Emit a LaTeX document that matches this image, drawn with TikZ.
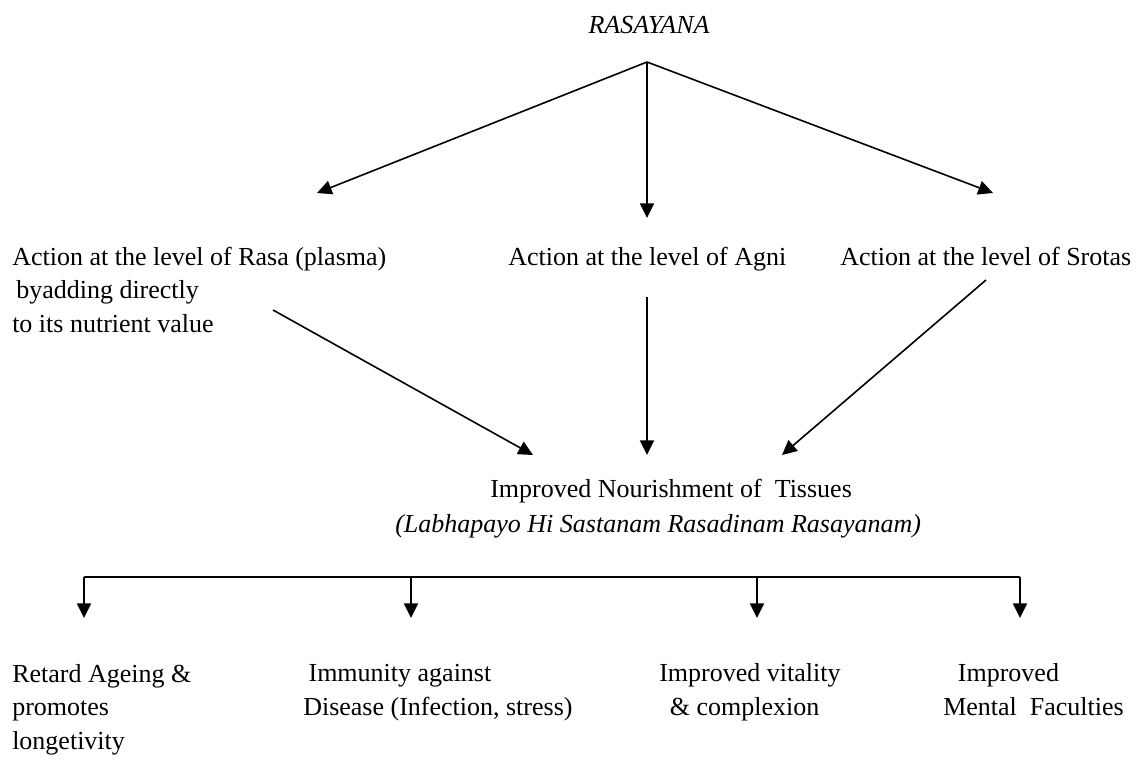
\documentclass[tikz,border=0pt]{standalone}
\usepackage{fontspec}
\setmainfont{Liberation Serif}
\usetikzlibrary{positioning,arrows.meta}
\tikzset{%
  lbl/.style={inner sep=0pt,font=\fontsize{19.5}{25}\selectfont},
  blk/.style={lbl,align=left,anchor=base west}, % base = last line
  arr/.style={line width=1.2pt,-{Triangle[length=11pt,width=10.5pt]}},
  bar/.style={line width=1.2pt}
}

\begin{document}
\begin{tikzpicture}[x=0.75pt,y=-0.75pt]
  \useasboundingbox (0,0) rectangle (1147,764);
  \node[lbl,anchor=base] (ras) at (649,33) {\itshape RASAYANA};
  \coordinate (apex) at (647,62);

  % three actions
  \node[blk] (rasa) at (12,332) {Action at the level of Rasa (plasma)\\
    \hspace*{3pt}byadding directly\\to its nutrient value};
  \node[lbl,anchor=base west] (agni) at (508,265) {Action at the level of Agni};
  \node[lbl,anchor=base west] (srotas) at (840,265) {Action at the level of Srotas};

  \coordinate (t1) at (317,193);
  \coordinate (t2) at (647,218);
  \coordinate (t3) at (993,193);
  \draw[arr] (apex) -- (t1);
  \draw[arr] (apex) -- (t2);
  \draw[arr] (apex) -- (t3);

  % nourishment
  \node[lbl,anchor=base west] (nour) at (490,497) {Improved Nourishment of\ \ Tissues};
  \node[lbl,anchor=base west] (quote) at (395,532)
    {\itshape (Labhapayo Hi Sastanam Rasadinam Rasayanam)};

  \coordinate (s1) at (273,310);
  \coordinate (s2) at (647,297);
  \coordinate (s3) at (986,280);
  \coordinate (e1) at (533,455);
  \coordinate (e2) at (647,455);
  \coordinate (e3) at (782,455);
  \draw[arr] (s1) -- (e1);
  \draw[arr] (s2) -- (e2);
  \draw[arr] (s3) -- (e3);

  % effects
  \foreach \x [count=\i] in {84,411,757,1020} {
    \coordinate (b\i) at (\x,577);
    \coordinate (d\i) at (\x,618);
    \draw[arr] (b\i) -- (d\i);
  }
  \draw[bar] (b1) -- (b4);

  \node[blk] (ageing) at (12,749) {Retard Ageing \&\\promotes\\longetivity};
  \node[blk] (immun) at (303,715) {\hspace*{4pt}Immunity against\\Disease (Infection, stress)};
  \node[blk] (vital) at (659,715) {Improved vitality\\\hspace*{8pt}\& complexion};
  \node[blk] (mental) at (943,715) {\hspace*{11pt}Improved\\Mental\ \ Faculties};
\end{tikzpicture}
\end{document}
